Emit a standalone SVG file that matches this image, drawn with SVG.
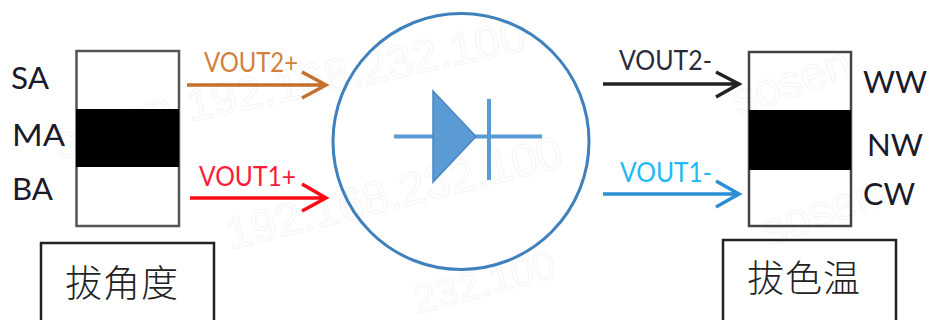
<svg xmlns="http://www.w3.org/2000/svg" width="931" height="320" viewBox="0 0 931 320">
<style>
text{font-family:"Lato","Open Sans","Noto Sans CJK SC",sans-serif}
.side{font-size:31px;fill:#1a1a2a}
.v{font-size:26px}
.cn{font-size:37px;font-family:"Noto Sans CJK SC",sans-serif;fill:#222;font-weight:300;letter-spacing:1px}
.frame{fill:none;stroke:#555;stroke-width:2.500}
.label{fill:none;stroke:#222;stroke-width:2.500}
.band{fill:#000}
.wm{font-size:46px;fill:none;stroke:#f5f5f5;stroke-width:1;font-family:"Liberation Sans",sans-serif}
.arrow{fill:none;stroke-width:3.500}
</style>
<rect width="931" height="320" fill="#fff"/>
<g id="watermark">
<text class="wm" transform="translate(190 122) rotate(-12)">192.168.232.100</text>
<text class="wm" transform="translate(230 250) rotate(-14)">192.168.232.100</text>
<text class="wm" style="font-size:40px" transform="translate(418 314) rotate(-15)">232.100</text>
<text class="wm" transform="translate(60 160) rotate(-19)">sosen</text>
<text class="wm" transform="translate(738 116) rotate(-19)">sosen</text>
<text class="wm" transform="translate(768 246) rotate(-19)">sosen</text>
</g>
<g id="node-angle-switch">
<rect class="frame" x="76.500" y="51" width="102.500" height="175"/>
<rect class="band" x="76" y="109" width="103" height="58"/>
<text class="side" x="11" y="89" textLength="38" lengthAdjust="spacingAndGlyphs">SA</text>
<text class="side" x="12" y="146" textLength="53" lengthAdjust="spacingAndGlyphs">MA</text>
<text class="side" x="12" y="200" textLength="41" lengthAdjust="spacingAndGlyphs">BA</text>
</g>
<g id="node-angle-label">
<rect class="label" x="41" y="243" width="173" height="90"/>
<text class="cn" x="65" y="297">拔角度</text>
</g>
<g id="node-led">
<circle cx="461" cy="141.500" r="128" fill="none" stroke="#3f80bd" stroke-width="3"/>
<path d="M394 136.500H542" stroke="#5b9bd5" stroke-width="4" fill="none"/>
<path d="M489 99V180" stroke="#5b9bd5" stroke-width="4" fill="none"/>
<path d="M433 91L476 136.500L433 182Z" fill="#5b9bd5" stroke="#4a86c0" stroke-width="1.500"/>
</g>
<g id="node-cct-switch">
<rect class="frame" x="749" y="52" width="102" height="174" style="stroke:#444"/>
<rect class="band" x="749" y="110" width="102" height="60"/>
<text class="side" x="863" y="93" textLength="64" lengthAdjust="spacingAndGlyphs">WW</text>
<text class="side" x="867" y="156" textLength="56" lengthAdjust="spacingAndGlyphs">NW</text>
<text class="side" x="863" y="205" textLength="52" lengthAdjust="spacingAndGlyphs">CW</text>
</g>
<g id="node-cct-label">
<rect class="label" x="723" y="240" width="173" height="90"/>
<text class="cn" x="747" y="292">拔色温</text>
</g>
<g id="connectors">
<path class="arrow" stroke="#c5702c" d="M187 85H325M302 72L326 85L302 98"/>
<path class="arrow" stroke="#ff0a14" d="M190 198H325M302 184L326 198L302 211"/>
<path class="arrow" stroke="#222" d="M603 84H737M716 72L739 84L716 97"/>
<path class="arrow" stroke="#2b8fd6" d="M603 194H737M716 181L739 194L716 207"/>
<text class="v" x="204" y="72" fill="#d2803c" textLength="94" lengthAdjust="spacingAndGlyphs">VOUT2+</text>
<text class="v" x="199" y="186" fill="#ff1a3a" textLength="97" lengthAdjust="spacingAndGlyphs">VOUT1+</text>
<text class="v" x="619" y="70" fill="#2a2a3a" textLength="93" lengthAdjust="spacingAndGlyphs">VOUT2-</text>
<text class="v" x="620" y="182" fill="#22b8f5" textLength="92" lengthAdjust="spacingAndGlyphs">VOUT1-</text>
</g>
</svg>
